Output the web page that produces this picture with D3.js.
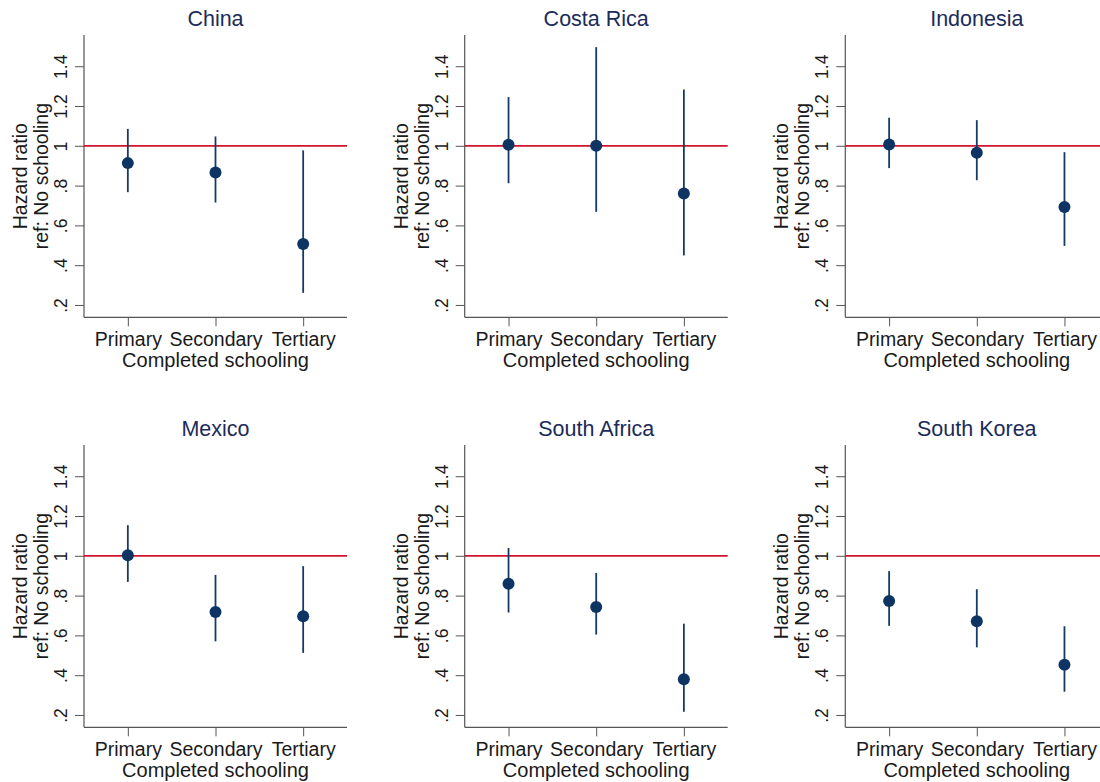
<!DOCTYPE html>
<html>
<head>
<meta charset="utf-8">
<script src="https://cdn.jsdelivr.net/npm/d3@7"></script>
<style>
  html, body { margin: 0; padding: 0; background: #fff; }
  svg { display: block; font-family: "Liberation Sans", Arial, Helvetica, sans-serif; }
</style>
</head>
<body>
<svg id="chart" width="1100" height="782"></svg>
<script>
// ---- Data ----
const countries = ["China", "Costa Rica", "Indonesia", "Mexico", "South Africa", "South Korea"];
const levels = ["Primary", "Secondary", "Tertiary"];
// hazard ratio point estimates per country (Primary, Secondary, Tertiary)
const hrChina       = [0.913, 0.866, 0.506];
const hrCostaRica   = [1.005, 1.000, 0.760];
const hrIndonesia   = [1.007, 0.965, 0.693];
const hrMexico      = [1.003, 0.718, 0.696];
const hrSouthAfrica = [0.859, 0.743, 0.379];
const hrSouthKorea  = [0.773, 0.671, 0.453];
// lower 95% CI
const loChina       = [0.767, 0.715, 0.261];
const loCostaRica   = [0.812, 0.668, 0.449];
const loIndonesia   = [0.888, 0.827, 0.497];
const loMexico      = [0.869, 0.570, 0.512];
const loSouthAfrica = [0.715, 0.604, 0.216];
const loSouthKorea  = [0.648, 0.540, 0.317];
// upper 95% CI
const hiChina       = [1.085, 1.047, 0.977];
const hiCostaRica   = [1.245, 1.496, 1.283];
const hiIndonesia   = [1.141, 1.129, 0.968];
const hiMexico      = [1.154, 0.904, 0.948];
const hiSouthAfrica = [1.039, 0.914, 0.659];
const hiSouthKorea  = [0.923, 0.832, 0.646];
const yTicks = [0.2, 0.4, 0.6, 0.8, 1.0, 1.2, 1.4];
const refValue = 1;
const xAxisTitle = "Completed schooling";
const yAxisTitle = ["Hazard ratio", "ref: No schooling"];

const hrAll = [hrChina, hrCostaRica, hrIndonesia, hrMexico, hrSouthAfrica, hrSouthKorea];
const loAll = [loChina, loCostaRica, loIndonesia, loMexico, loSouthAfrica, loSouthKorea];
const hiAll = [hiChina, hiCostaRica, hiIndonesia, hiMexico, hiSouthAfrica, hiSouthKorea];

// ---- Layout ----
const svg = d3.select("#chart");
const plotW = 263, plotTop = 35, plotBottom = 317.3;
const colX = [84, 464.7, 845.3];
const rowY = [0, 410];
const navy = "#133a68";
const dotColor = "#0d3463";
const red = "#d0142e";
const titleColor = "#1c2b5a";
const axisColor = "#555";
const textColor = "#1a1a1a";

const x = d3.scalePoint().domain(levels).range([0, plotW]).padding(0.5);
const y = d3.scaleLinear().domain([0.138, 1.557]).range([plotBottom, plotTop]);
const fmt = d => d === 1 ? "1" : (d < 1 ? d3.format(".1f")(d).replace(/^0/, "") : d3.format(".1f")(d));

countries.forEach((name, i) => {
  const g = svg.append("g")
    .attr("transform", `translate(${colX[i % 3]},${rowY[Math.floor(i / 3)]})`);

  // title
  g.append("text")
    .attr("x", plotW / 2).attr("y", 26)
    .attr("text-anchor", "middle")
    .attr("font-size", 21.5)
    .attr("fill", titleColor)
    .text(name);

  // y axis
  const ya = g.append("g").call(d3.axisLeft(y).tickValues(yTicks).tickFormat(fmt).tickSize(9).tickSizeOuter(0));
  ya.select(".domain").remove();
  ya.selectAll(".tick line").attr("stroke", axisColor).attr("stroke-width", 1);
  ya.selectAll(".tick text")
    .attr("transform", "rotate(-90)")
    .attr("x", 0).attr("y", -17).attr("dy", 0)
    .attr("text-anchor", "middle")
    .attr("font-size", 17.5)
    .attr("fill", textColor);
  g.append("line")
    .attr("x1", 0).attr("x2", 0).attr("y1", plotTop).attr("y2", plotBottom)
    .attr("stroke", axisColor).attr("stroke-width", 1.2);

  // x axis
  const xa = g.append("g").attr("transform", `translate(0,${plotBottom})`)
    .call(d3.axisBottom(x).tickSize(9).tickSizeOuter(0));
  xa.select(".domain").remove();
  xa.selectAll(".tick line").attr("stroke", axisColor).attr("stroke-width", 1);
  xa.selectAll(".tick text")
    .attr("y", 29).attr("dy", 0)
    .attr("font-size", 19.5)
    .attr("fill", textColor);
  g.append("line")
    .attr("x1", 0).attr("x2", plotW).attr("y1", plotBottom).attr("y2", plotBottom)
    .attr("stroke", axisColor).attr("stroke-width", 1.2);

  // axis titles
  g.append("text")
    .attr("x", plotW / 2).attr("y", 366.7)
    .attr("text-anchor", "middle")
    .attr("font-size", 20)
    .attr("fill", textColor)
    .text(xAxisTitle);
  const cy = (plotTop + plotBottom) / 2;
  [-57, -36].forEach((dx, k) => {
    g.append("text")
      .attr("transform", `translate(${dx},${cy}) rotate(-90)`)
      .attr("text-anchor", "middle")
      .attr("font-size", 19.5)
      .attr("fill", textColor)
      .text(yAxisTitle[k]);
  });

  // reference line
  g.append("line")
    .attr("x1", 0).attr("x2", plotW)
    .attr("y1", y(refValue)).attr("y2", y(refValue))
    .attr("stroke", red).attr("stroke-width", 1.8);

  // CI bars
  g.selectAll("line.ci").data(levels).enter().append("line")
    .attr("class", "ci")
    .attr("x1", d => x(d)).attr("x2", d => x(d))
    .attr("y1", (d, j) => y(loAll[i][j]))
    .attr("y2", (d, j) => y(hiAll[i][j]))
    .attr("stroke", navy).attr("stroke-width", 1.8);

  // points
  g.selectAll("circle.pt").data(levels).enter().append("circle")
    .attr("class", "pt")
    .attr("cx", d => x(d))
    .attr("cy", (d, j) => y(hrAll[i][j]))
    .attr("r", 6)
    .attr("fill", dotColor);
});
</script>
</body>
</html>
